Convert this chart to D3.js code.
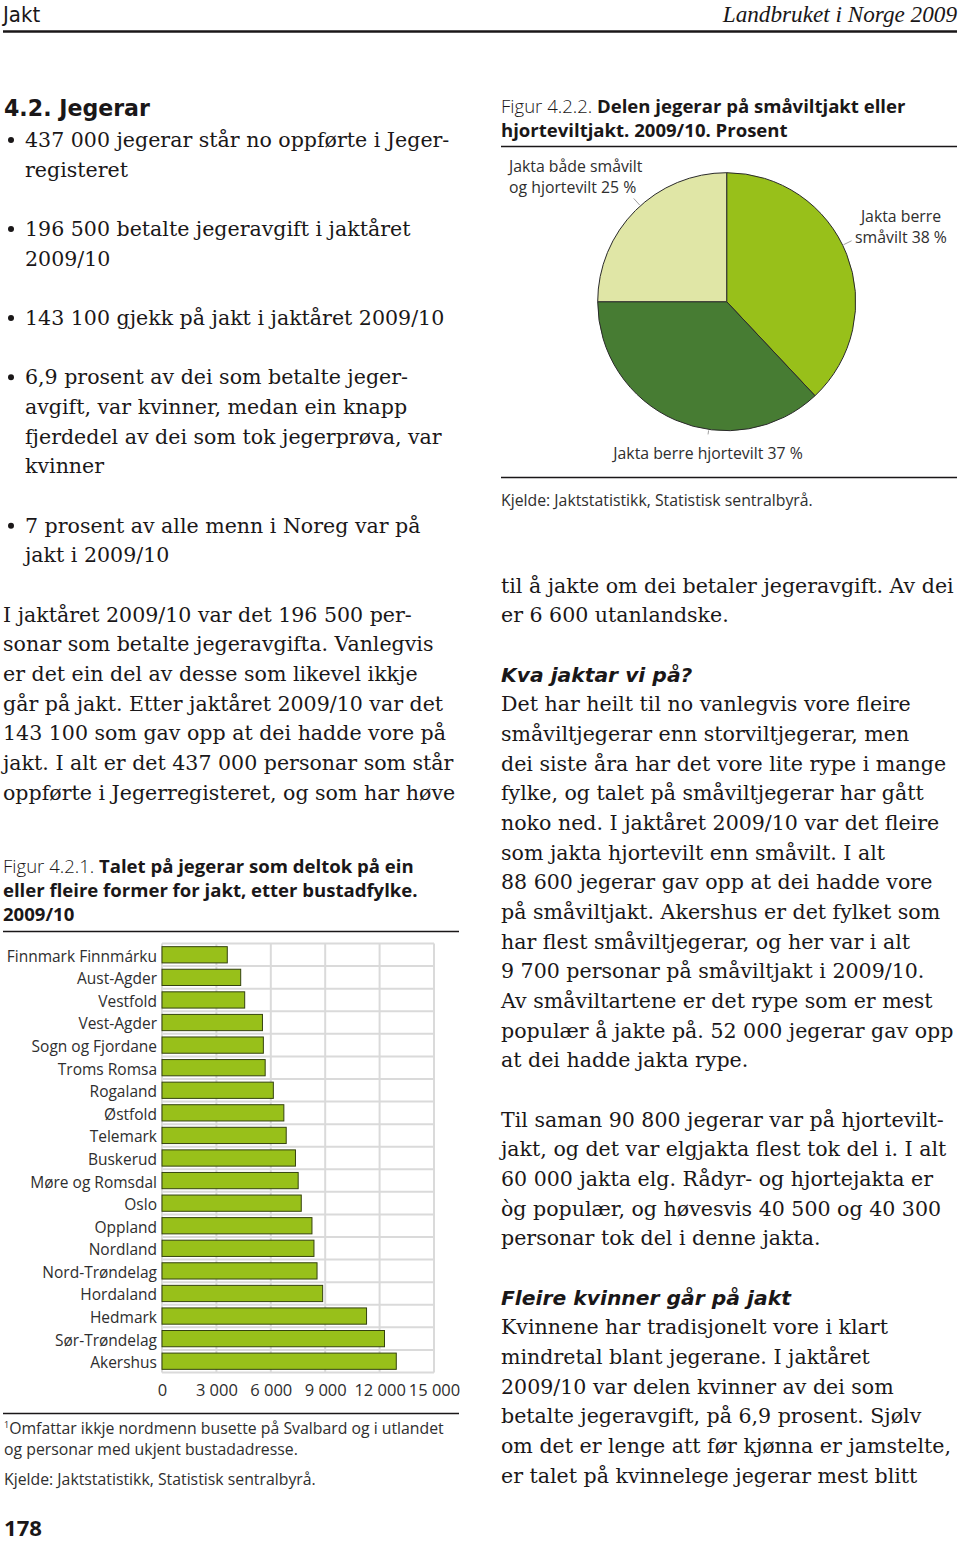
<!DOCTYPE html>
<html><head><meta charset="utf-8">
<script src="https://cdn.jsdelivr.net/npm/d3@7"></script>
<style>
html,body{margin:0;padding:0;background:#fff;}
svg{display:block;}
</style></head>
<body>
<svg id="page" width="960" height="1545"></svg>
<script>
// ---------- DATA ----------
const counties = ["Finnmark Finnmárku","Aust-Agder","Vestfold","Vest-Agder","Sogn og Fjordane","Troms Romsa","Rogaland","Østfold","Telemark","Buskerud","Møre og Romsdal","Oslo","Oppland","Nordland","Nord-Trøndelag","Hordaland","Hedmark","Sør-Trøndelag","Akershus"];
const hunters = [3600,4340,4560,5540,5590,5690,6140,6720,6850,7360,7510,7680,8270,8380,8550,8860,11280,12270,12920];
const xTicks = [0,3000,6000,9000,12000,15000];

const pieLabels = [["Jakta berre","småvilt 38 %"],["Jakta berre hjortevilt 37 %"],["Jakta både småvilt","og hjortevilt 25 %"]];
const pieValues = [38,37,25];
const pieColors = ["#98c01a","#477c33","#e0e6a6"];

const leftLines = [
 [0,"437 000 jegerar står no oppførte i Jeger-",true],
 [1,"registeret",false],
 [3,"196 500 betalte jegeravgift i jaktåret",true],
 [4,"2009/10",false],
 [6,"143 100 gjekk på jakt i jaktåret 2009/10",true],
 [8,"6,9 prosent av dei som betalte jeger-",true],
 [9,"avgift, var kvinner, medan ein knapp",false],
 [10,"fjerdedel av dei som tok jegerprøva, var",false],
 [11,"kvinner",false],
 [13,"7 prosent av alle menn i Noreg var på",true],
 [14,"jakt i 2009/10",false],
 [16,"I jaktåret 2009/10 var det 196 500 per-",null],
 [17,"sonar som betalte jegeravgifta. Vanlegvis",null],
 [18,"er det ein del av desse som likevel ikkje",null],
 [19,"går på jakt. Etter jaktåret 2009/10 var det",null],
 [20,"143 100 som gav opp at dei hadde vore på",null],
 [21,"jakt. I alt er det 437 000 personar som står",null],
 [22,"oppførte i Jegerregisteret, og som har høve",null]
];
const rightLines = [
 [0,"til å jakte om dei betaler jegeravgift. Av dei"],
 [1,"er 6 600 utanlandske."],
 [3,"Kva jaktar vi på?","h"],
 [4,"Det har heilt til no vanlegvis vore fleire"],
 [5,"småviltjegerar enn storviltjegerar, men"],
 [6,"dei siste åra har det vore lite rype i mange"],
 [7,"fylke, og talet på småviltjegerar har gått"],
 [8,"noko ned. I jaktåret 2009/10 var det fleire"],
 [9,"som jakta hjortevilt enn småvilt. I alt"],
 [10,"88 600 jegerar gav opp at dei hadde vore"],
 [11,"på småviltjakt. Akershus er det fylket som"],
 [12,"har flest småviltjegerar, og her var i alt"],
 [13,"9 700 personar på småviltjakt i 2009/10."],
 [14,"Av småviltartene er det rype som er mest"],
 [15,"populær å jakte på. 52 000 jegerar gav opp"],
 [16,"at dei hadde jakta rype."],
 [18,"Til saman 90 800 jegerar var på hjortevilt-"],
 [19,"jakt, og det var elgjakta flest tok del i. I alt"],
 [20,"60 000 jakta elg. Rådyr- og hjortejakta er"],
 [21,"òg populær, og høvesvis 40 500 og 40 300"],
 [22,"personar tok del i denne jakta."],
 [24,"Fleire kvinner går på jakt","h"],
 [25,"Kvinnene har tradisjonelt vore i klart"],
 [26,"mindretal blant jegerane. I jaktåret"],
 [27,"2009/10 var delen kvinner av dei som"],
 [28,"betalte jegeravgift, på 6,9 prosent. Sjølv"],
 [29,"om det er lenge att før kjønna er jamstelte,"],
 [30,"er talet på kvinnelege jegerar mest blitt"]
];

// ---------- SETUP ----------
const svg = d3.select("#page");
svg.append("rect").attr("width",960).attr("height",1545).attr("fill","#fff");
const INK = "#1a1718";
const GREY = "#2e2e2e";
const SERIF = "'DejaVu Serif', 'Liberation Serif', serif";
const SANS = "'Open Sans', 'Noto Sans', 'DejaVu Sans', sans-serif";
const WIDE = "'DejaVu Sans', 'Open Sans', sans-serif";
const LH = 29.67;

function measure(txt, family, size, weight, style){
  const p = svg.append("text").attr("font-family",family).attr("font-size",size)
    .attr("font-weight",weight||400).attr("font-style",style||"normal").text(txt);
  const w = p.node().getComputedTextLength(); p.remove();
  return w;
}
function fit(txt, family, target, weight, style){
  return 20*target/measure(txt,family,20,weight,style);
}
const bodySize = fit("til å jakte om dei betaler jegeravgift. Av dei", SERIF, 453);
const titleSize = fit("eller fleire former for jakt, etter bustadfylke.", SANS, 415, 700);
const headSize = fit("Fleire kvinner går på jakt", WIDE, 290, 700, "italic");
const h1Size = fit("4.2. Jegerar", WIDE, 146, 700);
const pgSize = fit("178", SANS, 38, 700);
const smallSize = fit("Kjelde: Jaktstatistikk, Statistisk sentralbyrå.", SANS, 312);
const tickSize = fit("3 000", SANS, 42);

// ---------- HEADER ----------
svg.append("text").attr("x",3).attr("y",22).attr("font-family","'Liberation Sans Narrow','DejaVu Sans Condensed','Open Sans',sans-serif")
  .attr("font-size",22).attr("fill",INK).text("Jakt");
svg.append("text").attr("x",957).attr("y",22).attr("text-anchor","end").attr("font-family","'Liberation Serif',serif")
  .attr("font-style","italic").attr("font-size",23.2).attr("fill",INK).text("Landbruket i Norge 2009");
svg.append("line").attr("x1",3).attr("x2",957).attr("y1",31.5).attr("y2",31.5).attr("stroke",INK).attr("stroke-width",2.5);

// ---------- LEFT COLUMN TEXT ----------
svg.append("text").attr("x",4).attr("y",116).attr("font-family",WIDE).attr("font-weight",700)
  .attr("font-size",h1Size).attr("fill",INK).text("4.2. Jegerar");
const lg = svg.append("g").attr("font-family",SERIF).attr("font-size",bodySize).attr("fill",INK);
leftLines.forEach(([slot,txt,bul])=>{
  const yy = 147 + slot*LH;
  if(bul===true){
    lg.append("circle").attr("cx",11).attr("cy",yy-7).attr("r",3);
  }
  lg.append("text").attr("x", bul===null ? 3 : 25).attr("y",yy).text(txt);
});

// ---------- RIGHT COLUMN TEXT ----------
const rg = svg.append("g").attr("fill",INK);
rightLines.forEach(([slot,txt,kind])=>{
  const yy = 592.5 + slot*LH;
  const t = rg.append("text").attr("x",501).attr("y",yy).text(txt);
  if(kind==="h"){
    t.attr("font-family",WIDE).attr("font-weight",700).attr("font-style","italic").attr("font-size",headSize);
  } else {
    t.attr("font-family",SERIF).attr("font-size",bodySize);
  }
});

// ---------- PIE CHART (Figur 4.2.2) ----------
const pt = svg.append("text").attr("x",501).attr("y",113).attr("font-family",SANS).attr("font-size",titleSize).attr("fill",INK);
pt.append("tspan").attr("font-weight",300).text("Figur 4.2.2. ");
pt.append("tspan").attr("font-weight",700).text("Delen jegerar på småviltjakt eller");
svg.append("text").attr("x",501).attr("y",137).attr("font-family",SANS).attr("font-size",titleSize).attr("font-weight",700)
  .attr("fill",INK).text("hjorteviltjakt. 2009/10. Prosent");
svg.append("line").attr("x1",501).attr("x2",957).attr("y1",146.5).attr("y2",146.5).attr("stroke",INK).attr("stroke-width",1.5);

const cx = 726.7, cy = 301.7, R = 129;
const pie = d3.pie().sort(null).value(d=>d)(pieValues);
const arc = d3.arc().innerRadius(0).outerRadius(R);
const pg = svg.append("g").attr("transform",`translate(${cx},${cy})`);
pg.selectAll("path").data(pie).join("path")
  .attr("d",arc).attr("fill",(d,i)=>pieColors[i]).attr("stroke","#2a2a2a").attr("stroke-width",1);

const labelPos = [
  {x:901, y:222, anchor:"middle"},
  {x:708, y:459, anchor:"middle"},
  {x:509, y:172, anchor:"start"}
];
const leaderDir = [64, 188, 318];
leaderDir.forEach((deg,i)=>{
  const a = deg*Math.PI/180;
  const r0 = R+1, r1 = R+ (i===1?5:10);
  pg.append("line")
    .attr("x1",Math.sin(a)*r0).attr("y1",-Math.cos(a)*r0)
    .attr("x2",Math.sin(a)*r1).attr("y2",-Math.cos(a)*r1)
    .attr("stroke","#888").attr("stroke-width",0.8);
});
pieLabels.forEach((lines,i)=>{
  const t = svg.append("text").attr("x",labelPos[i].x).attr("y",labelPos[i].y)
    .attr("text-anchor",labelPos[i].anchor).attr("font-family",SANS).attr("font-size",smallSize).attr("fill",GREY);
  lines.forEach((l,j)=>t.append("tspan").attr("x",labelPos[i].x).attr("dy", j===0?0:21).text(l));
});
svg.append("line").attr("x1",501).attr("x2",957).attr("y1",477.5).attr("y2",477.5).attr("stroke",INK).attr("stroke-width",1.5);
svg.append("text").attr("x",501).attr("y",506).attr("font-family",SANS).attr("font-size",smallSize).attr("fill",GREY)
  .text("Kjelde: Jaktstatistikk, Statistisk sentralbyrå.");

// ---------- BAR CHART (Figur 4.2.1) ----------
const bt = svg.append("text").attr("x",3).attr("y",873).attr("font-family",SANS).attr("font-size",titleSize).attr("fill",INK);
bt.append("tspan").attr("font-weight",300).text("Figur 4.2.1. ");
bt.append("tspan").attr("font-weight",700).text("Talet på jegerar som deltok på ein");
svg.append("text").attr("x",3).attr("y",897).attr("font-family",SANS).attr("font-size",titleSize).attr("font-weight",700)
  .attr("fill",INK).text("eller fleire former for jakt, etter bustadfylke.");
svg.append("text").attr("x",3).attr("y",921).attr("font-family",SANS).attr("font-size",titleSize).attr("font-weight",700)
  .attr("fill",INK).text("2009/10");
svg.append("line").attr("x1",3).attr("x2",459).attr("y1",931.5).attr("y2",931.5).attr("stroke",INK).attr("stroke-width",1.5);

const x = d3.scaleLinear().domain([0,15000]).range([162,434]);
const y = d3.scaleBand().domain(counties).range([943.5,1372.5]).paddingInner(0.28).paddingOuter(0.14);
const step = y.step();
const gridG = svg.append("g").attr("stroke","#dadada").attr("stroke-width",2);
gridG.selectAll("line.v").data(xTicks).join("line").attr("class","v")
  .attr("x1",d=>x(d)).attr("x2",d=>x(d)).attr("y1",y.range()[0]).attr("y2",y.range()[1]);
gridG.selectAll("line.h").data(d3.range(counties.length+1)).join("line").attr("class","h")
  .attr("x1",x(0)).attr("x2",x(15000))
  .attr("y1",i=>y.range()[0]+i*step).attr("y2",i=>y.range()[0]+i*step);

svg.append("g").selectAll("rect").data(counties).join("rect")
  .attr("x",x(0)).attr("y",d=>y(d)).attr("height",y.bandwidth())
  .attr("width",(d,i)=>x(hunters[i])-x(0))
  .attr("fill","#98c01a").attr("stroke","#34420f").attr("stroke-width",1);

const yAxis = svg.append("g").attr("transform",`translate(${x(0)-5},2)`)
  .call(d3.axisLeft(y).tickSize(0).tickPadding(0));
yAxis.select(".domain").remove();
yAxis.selectAll("text").attr("font-family",SANS).attr("font-size",15.5).attr("fill",GREY);

const loc = d3.formatLocale({decimal:",",thousands:" ",grouping:[3],currency:["",""]});
const fmt = loc.format(",d");
const xAxis = svg.append("g").attr("transform",`translate(0,${1380})`)
  .call(d3.axisBottom(x).tickValues(xTicks).tickFormat(fmt).tickSize(0).tickPadding(0));
xAxis.select(".domain").remove();
xAxis.selectAll("text").attr("font-family",SANS).attr("font-size",tickSize).attr("fill",GREY).attr("dy","0.95em");

svg.append("line").attr("x1",3).attr("x2",459).attr("y1",1413.5).attr("y2",1413.5).attr("stroke",INK).attr("stroke-width",1.5);
const fn = svg.append("text").attr("x",4).attr("y",1434).attr("font-family",SANS).attr("font-size",smallSize).attr("fill",GREY);
fn.append("tspan").attr("font-size",9).attr("dy",-6).text("1");
fn.append("tspan").attr("dy",6).text("Omfattar ikkje nordmenn busette på Svalbard og i utlandet");
svg.append("text").attr("x",4).attr("y",1455).attr("font-family",SANS).attr("font-size",smallSize).attr("fill",GREY)
  .text("og personar med ukjent bustadadresse.");
svg.append("text").attr("x",4).attr("y",1485).attr("font-family",SANS).attr("font-size",smallSize).attr("fill",GREY)
  .text("Kjelde: Jaktstatistikk, Statistisk sentralbyrå.");

svg.append("text").attr("x",4).attr("y",1536).attr("font-family",SANS).attr("font-weight",700).attr("font-size",pgSize)
  .attr("fill",INK).text("178");
</script>
</body></html>
